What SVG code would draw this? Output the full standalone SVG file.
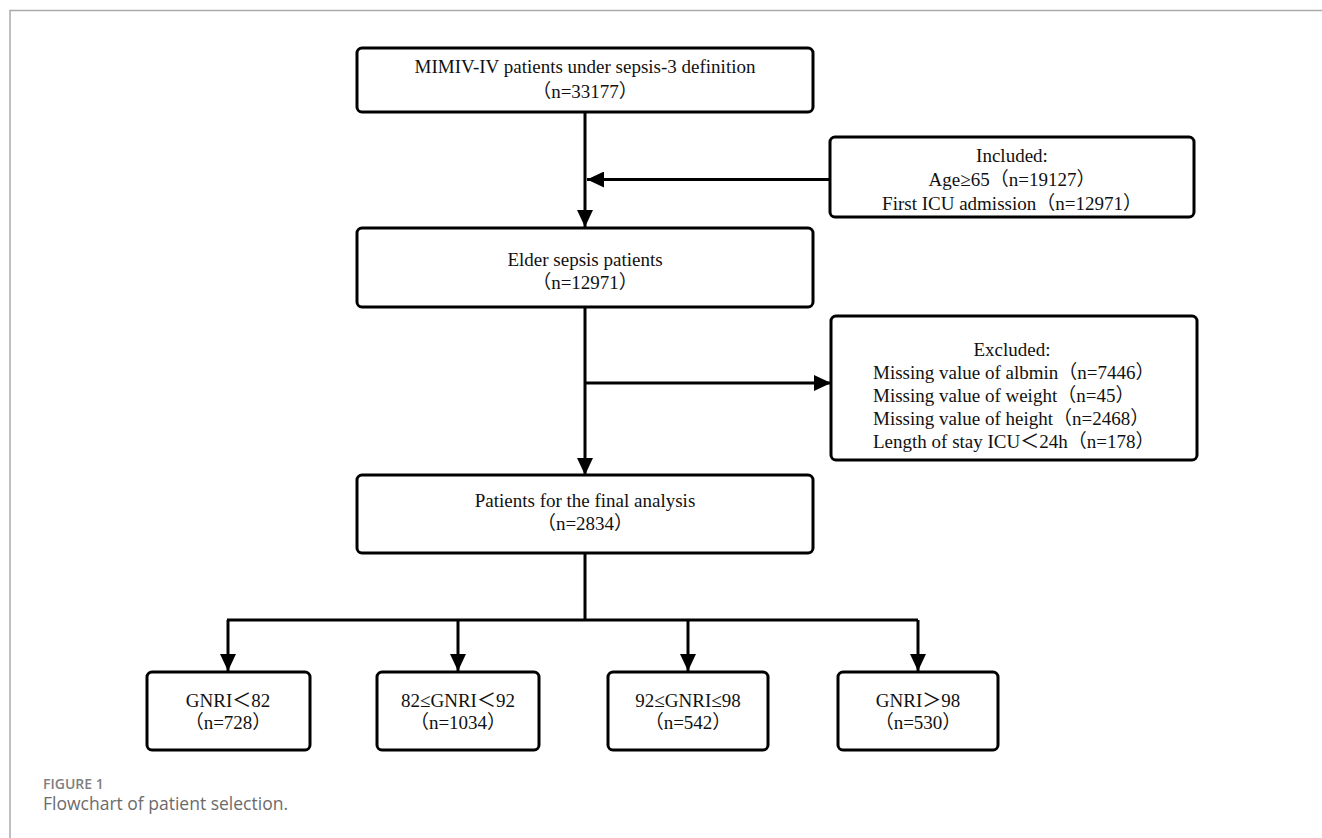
<svg xmlns="http://www.w3.org/2000/svg" width="1322" height="838" viewBox="0 0 1322 838">
<defs>
<style>
.box{fill:#fff;stroke:#000;stroke-width:3}
.t{font-family:"Liberation Serif","Noto Sans CJK SC",serif;font-size:19px;fill:#111;text-anchor:middle}
.l{text-anchor:start}
.c{fill:none;stroke:#000;stroke-width:3}
.cap1{font-family:"Open Sans","Noto Sans",sans-serif;font-size:14px;font-weight:600;fill:#808080}
.cap2{font-family:"Open Sans","Noto Sans",sans-serif;font-size:17.5px;fill:#6b6b6b}
</style>
<marker id="ah" markerUnits="userSpaceOnUse" markerWidth="17" markerHeight="16" viewBox="0 0 17 16" refX="17" refY="8" orient="auto">
<path d="M0,0 L17,8 L0,16 Z" fill="#000"/>
</marker>
</defs>
<rect width="1322" height="838" fill="#fff"/>
<path d="M10,838 V10.5 H1322" fill="none" stroke="#aaa" stroke-width="1.5"/>

<g id="connectors">
<path class="c" d="M585,112 V227" marker-end="url(#ah)"/>
<path class="c" d="M830,179.5 H587" marker-end="url(#ah)"/>
<path class="c" d="M585,307 V475" marker-end="url(#ah)"/>
<path class="c" d="M585,383 H831" marker-end="url(#ah)"/>
<path class="c" d="M585,553 V620"/>
<path class="c" d="M227,620 H918"/>
<path class="c" d="M228,620 V671" marker-end="url(#ah)"/>
<path class="c" d="M458,620 V671" marker-end="url(#ah)"/>
<path class="c" d="M688,620 V671" marker-end="url(#ah)"/>
<path class="c" d="M918,620 V671" marker-end="url(#ah)"/>
</g>

<g id="n1">
<rect class="box" x="357" y="48" width="456" height="64" rx="5"/>
<text class="t" x="585" y="73">MIMIV-IV patients under sepsis-3 definition</text>
<text class="t" x="585" y="98">（n=33177）</text>
</g>
<g id="included">
<rect class="box" x="830" y="137" width="364" height="80" rx="5"/>
<text class="t" x="1012" y="162">Included:</text>
<text class="t" x="1012" y="186">Age≥65（n=19127）</text>
<text class="t" x="1012" y="210">First ICU admission（n=12971）</text>
</g>
<g id="n2">
<rect class="box" x="357" y="228" width="456" height="79" rx="5"/>
<text class="t" x="585" y="266">Elder sepsis patients</text>
<text class="t" x="585" y="289">（n=12971）</text>
</g>
<g id="excluded">
<rect class="box" x="831" y="316" width="366" height="144" rx="5"/>
<text class="t" x="1012" y="356">Excluded:</text>
<text class="t l" x="873" y="379">Missing value of albmin（n=7446）</text>
<text class="t l" x="873" y="402">Missing value of weight（n=45）</text>
<text class="t l" x="873" y="425">Missing value of height（n=2468）</text>
<text class="t l" x="873" y="448">Length of stay ICU＜24h（n=178）</text>
</g>
<g id="n3">
<rect class="box" x="357" y="475" width="456" height="78" rx="5"/>
<text class="t" x="585" y="507">Patients for the final analysis</text>
<text class="t" x="585" y="530">（n=2834）</text>
</g>
<g id="g1">
<rect class="box" x="147" y="672" width="163" height="78" rx="5"/>
<text class="t" x="228" y="707">GNRI＜82</text>
<text class="t" x="228" y="729">（n=728）</text>
</g>
<g id="g2">
<rect class="box" x="377" y="672" width="162" height="78" rx="5"/>
<text class="t" x="458" y="707">82≤GNRI＜92</text>
<text class="t" x="458" y="729">（n=1034）</text>
</g>
<g id="g3">
<rect class="box" x="608" y="672" width="160" height="78" rx="5"/>
<text class="t" x="688" y="707">92≤GNRI≤98</text>
<text class="t" x="688" y="729">（n=542）</text>
</g>
<g id="g4">
<rect class="box" x="838" y="672" width="160" height="78" rx="5"/>
<text class="t" x="918" y="707">GNRI＞98</text>
<text class="t" x="918" y="729">（n=530）</text>
</g>

<text class="cap1" x="43" y="789">FIGURE 1</text>
<text class="cap2" x="43" y="810">Flowchart of patient selection.</text>
</svg>
